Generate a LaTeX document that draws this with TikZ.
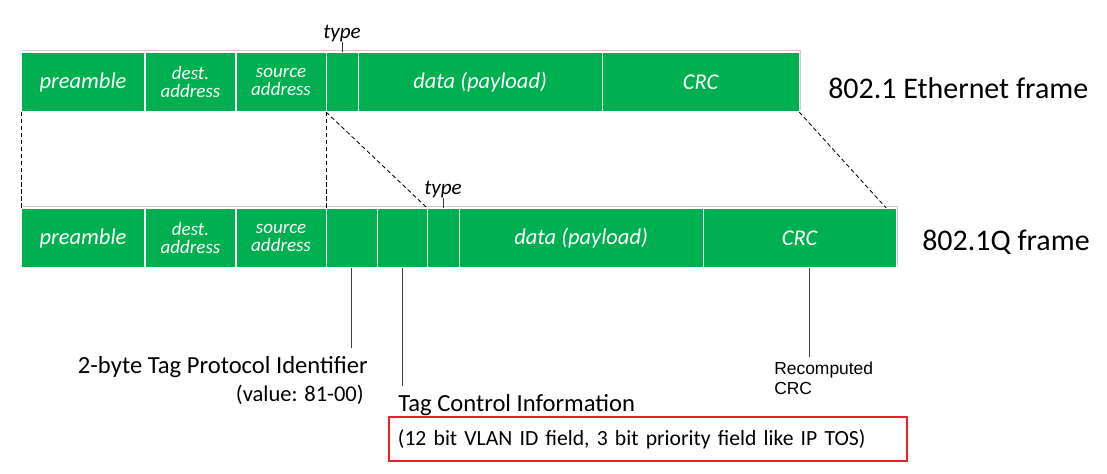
\documentclass[tikz,border=0pt]{standalone}
\usepackage{fontspec}
\setmainfont{Carlito}
\newfontfamily\arialfont{Liberation Sans}
\usepackage{xcolor}
\usepackage{tikz}
\usetikzlibrary{positioning,shadows}

\definecolor{framegreen}{RGB}{0,176,80}
\definecolor{boxred}{RGB}{232,32,42}

\begin{document}
\begin{tikzpicture}[
    x=0.025cm, y=-0.025cm,
    field/.style={draw=white, line width=0.8pt, fill=framegreen, outer sep=0pt, inner sep=0pt, minimum height=1.5cm, text=white, align=center, font=\fontsize{16}{16}\selectfont\itshape, general shadow={shadow xshift=1.2pt, shadow yshift=1.6pt, fill=black!45, opacity=0.45}},
    twoline/.style={font=\fontsize{13.5}{12.6}\selectfont\itshape},
    typelabel/.style={font=\fontsize{15}{15}\selectfont\itshape, inner sep=0.5pt},
    framelabel/.style={font=\fontsize{21.3}{21.3}\selectfont, inner xsep=0pt},
    note/.style={font=\fontsize{17.5}{17.5}\selectfont, inner xsep=0pt, inner ysep=5.5pt},
    tick/.style={black!80, line width=0.7pt},
    mapping/.style={black, line width=0.6pt, dash pattern=on 3pt off 2pt},
    pointer/.style={black!75, line width=0.7pt}
]

\useasboundingbox (0,0) rectangle (1107,474);

% 802.1 Ethernet frame (top)
\node[field, minimum width=3.1cm] (pre1) at (83,82) {preamble};
\node[field, twoline, minimum width=2.275cm, right=0pt of pre1] (dst1) {dest.\\address};
\node[field, twoline, minimum width=2.25cm, right=0pt of dst1] (src1) {source\\address};
\node[field, minimum width=0.8cm, right=0pt of src1] (type1) {};
\node[field, minimum width=6.1cm, right=0pt of type1] (data1) {data (payload)};
\node[field, minimum width=4.925cm, right=0pt of data1] (crc1) {CRC};
\node[framelabel, anchor=base west] (eth) at (828,98) {802.1 Ethernet frame};

\node[typelabel, above=0.24cm of type1] (typet1) {type};
\draw[tick] (typet1.south) -- (type1.north);

% 802.1Q frame (bottom)
\node[field, minimum width=3.1cm] (pre2) at (83,238) {preamble};
\node[field, twoline, minimum width=2.275cm, right=0pt of pre2] (dst2) {dest.\\address};
\node[field, twoline, minimum width=2.25cm, right=0pt of dst2] (src2) {source\\address};
\node[field, minimum width=1.275cm, right=0pt of src2] (tpid2) {};
\node[field, minimum width=1.25cm, right=0pt of tpid2] (tci2) {};
\node[field, minimum width=0.8cm, right=0pt of tci2] (type2) {};
\node[field, minimum width=6.1cm, right=0pt of type2] (data2) {data (payload)};
\node[field, minimum width=4.825cm, right=0pt of data2] (crc2) {CRC};
\node[framelabel, anchor=base west] (dotq) at (922,250) {802.1Q frame};

\node[typelabel, above=0.24cm of type2] (typet2) {type};
\draw[tick] (typet2.south) -- (type2.north);

% Mapping between the two frames
\draw[mapping] (pre1.south west) -- (pre2.north west);
\draw[mapping] (src1.south east) -- (src2.north east);
\draw[mapping] (src1.south east) -- (type2.north west);
\draw[mapping] (crc1.south east) -- ([xshift=-0.25cm]crc2.north east);

% Annotations
\node[note, anchor=base east] (tpidlbl) at (368,373) {2-byte Tag Protocol Identifier};
\node[font=\fontsize{16}{16}\selectfont, inner sep=0pt, anchor=base east] (tpidval) at (364,401) {(value: 81-00)};
\draw[pointer] (tpid2.south) -- (tpid2.south |- tpidlbl.north);

\node[note, anchor=base west] (tcilbl) at (398,411) {Tag Control Information};
\draw[pointer] (tci2.south) -- (tci2.south |- tcilbl.north);

\node[draw=boxred, line width=1.4pt, minimum width=12.95cm, minimum height=1.1cm, inner sep=0pt, text width=12.5cm, align=left, font=\fontsize{15.4}{15.4}\selectfont] (tcibox) at (648,439) {(12 bit VLAN ID field, 3 bit priority field like IP TOS)};

\node[font=\arialfont\fontsize{12.4}{14.2}\selectfont, align=left, inner xsep=0pt, inner ysep=3pt, anchor=base west] (crclbl) at (774,394) {Recomputed\\CRC};
\draw[pointer] ([xshift=0.24cm]crc2.south) -- ([xshift=0.24cm]crc2.south |- crclbl.north);

\end{tikzpicture}
\end{document}
